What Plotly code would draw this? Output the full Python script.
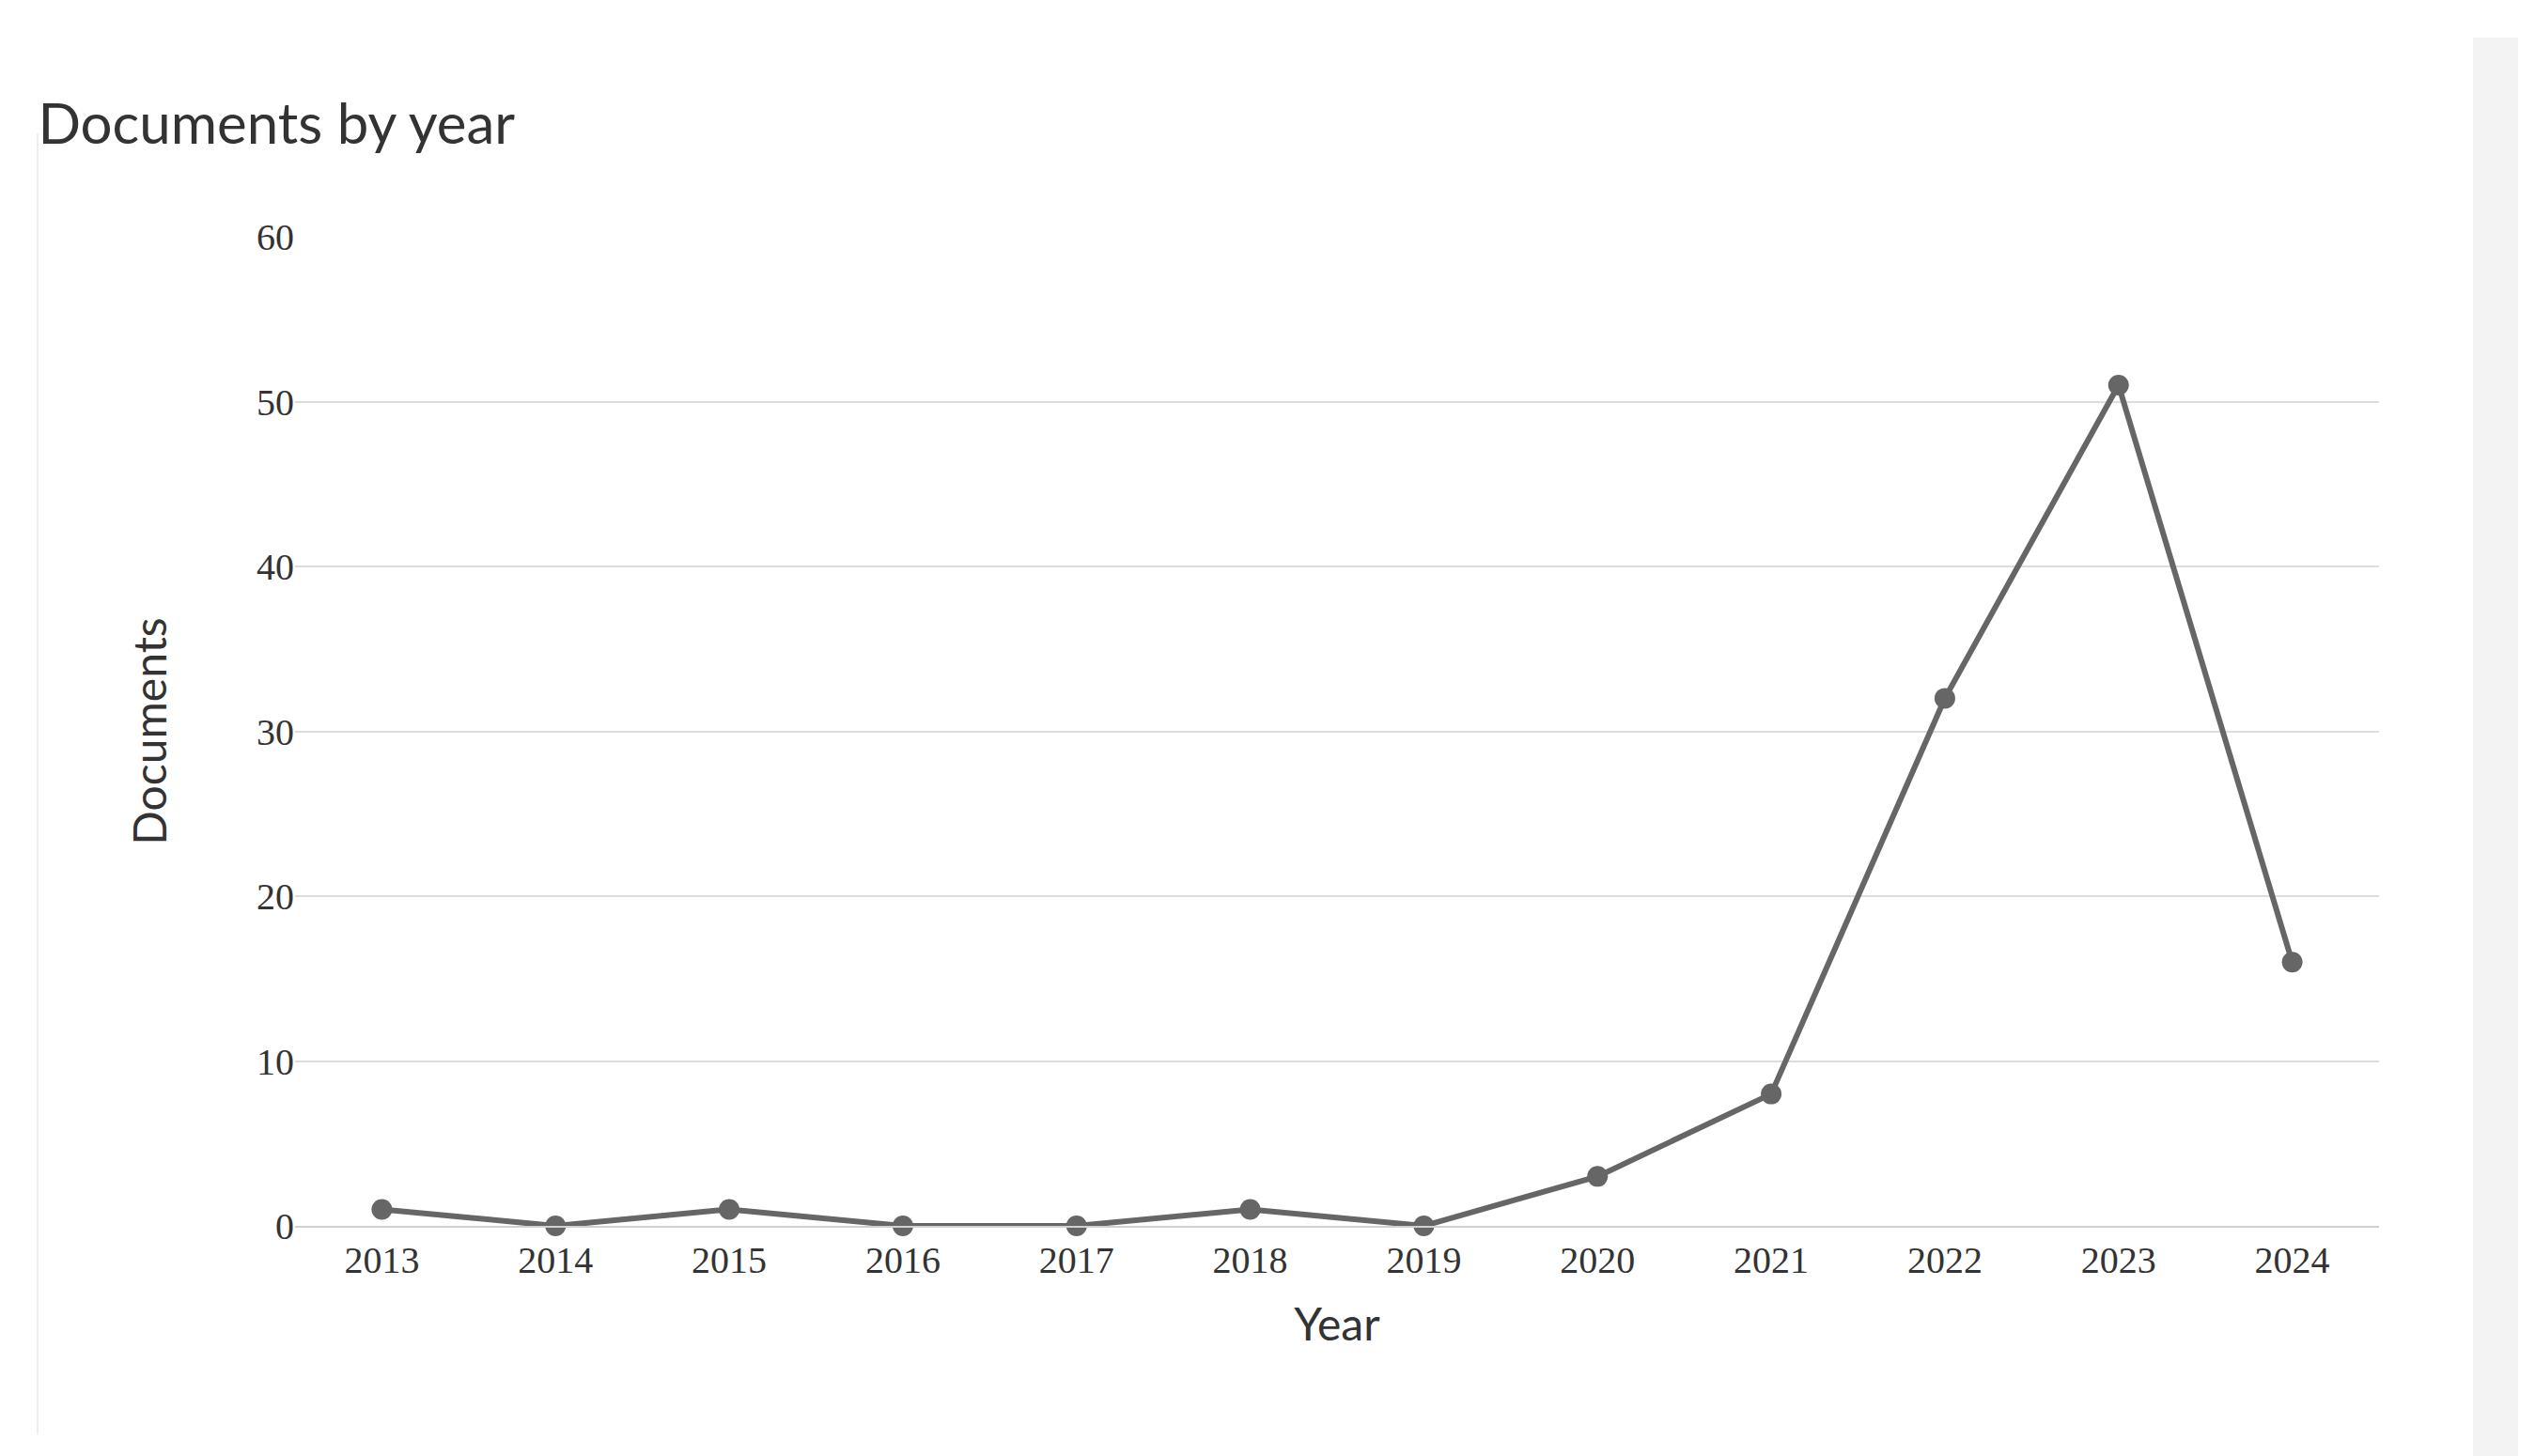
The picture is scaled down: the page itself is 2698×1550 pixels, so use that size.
import plotly.graph_objects as go

years = [2013, 2014, 2015, 2016, 2017, 2018, 2019, 2020, 2021, 2022, 2023, 2024]
documents = [1, 0, 1, 0, 0, 1, 0, 3, 8, 32, 51, 16]
y_ticks = [0, 10, 20, 30, 40, 50, 60]

fig = go.Figure(go.Scatter(
    x=years, y=documents, mode="lines+markers",
    line=dict(color="#666666", width=6),
    marker=dict(color="#666666", size=22),
    cliponaxis=False,
))

fig.update_layout(
    width=2698, height=1550,
    paper_bgcolor="white", plot_bgcolor="white",
    margin=dict(l=306, r=174, t=244, b=253),
    showlegend=False,
    title=dict(text="Documents by year", x=0.012, xanchor="left", y=0.92, yanchor="middle",
               font=dict(family="Lato", size=60, color="#333333")),
    xaxis=dict(range=[2012.5, 2024.5], tickvals=years, ticktext=[str(y) for y in years],
               showgrid=False, showline=True, linecolor="#d0d0d0", linewidth=2,
               ticks="", ticklen=0,
               tickfont=dict(family="Liberation Serif", size=40, color="#333333"),
               title=dict(text="Year", font=dict(family="Lato", size=48, color="#333333"), standoff=30)),
    yaxis=dict(range=[0, 60], tickvals=y_ticks, showgrid=True, gridcolor="#dddddd", gridwidth=2,
               zeroline=False, ticks="", 
               tickfont=dict(family="Liberation Serif", size=40, color="#333333"),
               title=dict(text="Documents", font=dict(family="Lato", size=48, color="#333333"), standoff=80)),
    shapes=[
        dict(type="rect", xref="paper", yref="paper", x0=(2624-306)/2218, x1=(2672-306)/2218,
             y0=-253/1053, y1=1+212/1053, fillcolor="#f3f3f3", line=dict(width=0), layer="below"),
        dict(type="line", xref="paper", yref="paper", x0=-274/2218, x1=-274/2218,
             y0=-222/1053, y1=1+110/1053, line=dict(color="#eeeeee", width=2)),
    ],
)

fig.write_html("out.html")
